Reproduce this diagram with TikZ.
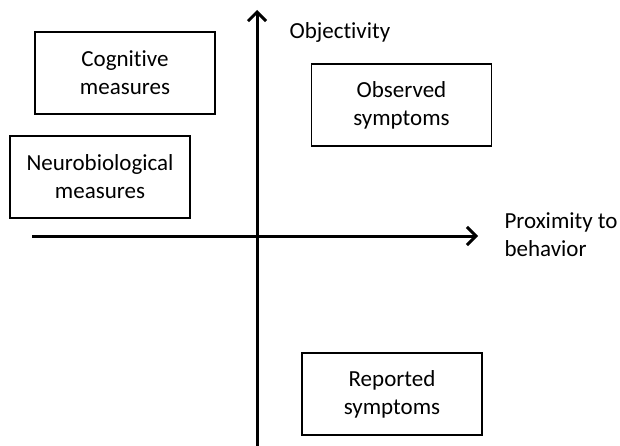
\documentclass[tikz,border=0pt]{standalone}
\usepackage{fontspec}
\setmainfont[Ligatures=NoCommon]{Carlito}
\usepackage{tikz}
\usetikzlibrary{arrows.meta}

\begin{document}
\begin{tikzpicture}[x=1pt, y=-1pt, every node/.style={align=center, font=\fontsize{23}{28}\selectfont},
  measurebox/.style={draw, line width=1.6pt, minimum width=180pt, minimum height=82pt, inner sep=0pt},
  axis/.style={line width=3pt, -{Straight Barb[length=9pt, width=18pt, line width=3pt]}}]
	\useasboundingbox (0,0) rectangle (620,446);
	\coordinate (ybot) at (257,446);
	\coordinate (ytop) at (257,10);
	\coordinate (xleft) at (32,236);
	\coordinate (xright) at (478,236);
	\node (cognitive) at (125,73) [measurebox] {Cognitive\\measures};
	\node (observed) at (401.5,105) [measurebox] {Observed\\symptoms};
	\node (neuro) at (100,177) [measurebox] {Neurobiological\\measures};
	\node (reported) at (392,394) [measurebox] {Reported\\symptoms};
	\node (objectivity) at (286,32) [anchor=west] {Objectivity};
	\node (proximity) at (501,235) [anchor=west, align=left] {Proximity to\\behavior};

	\draw[axis] (ybot) -- (ytop);
	\draw[axis] (xleft) -- (xright);
\end{tikzpicture}
\end{document}
